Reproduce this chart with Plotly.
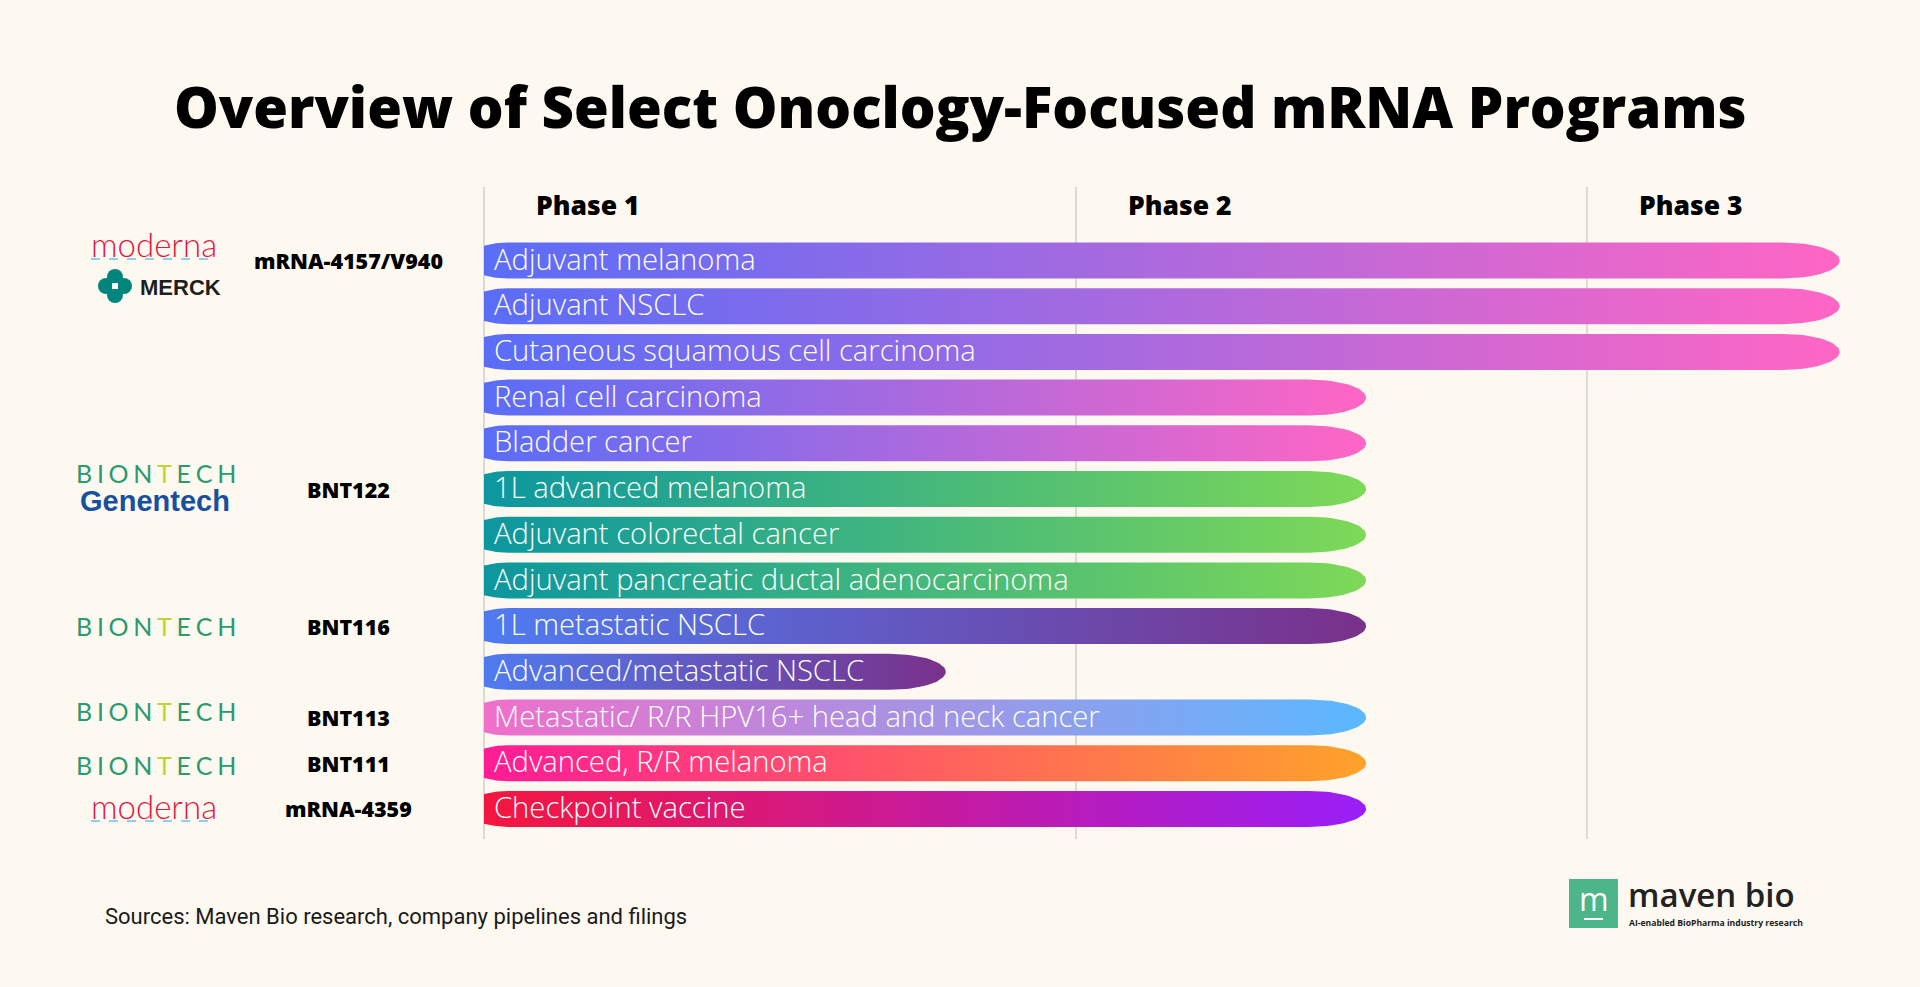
import math
import plotly.graph_objects as go

# ---------------- data ----------------
indications = [
    "Adjuvant melanoma",
    "Adjuvant NSCLC",
    "Cutaneous squamous cell carcinoma",
    "Renal cell carcinoma",
    "Bladder cancer",
    "1L advanced melanoma",
    "Adjuvant colorectal cancer",
    "Adjuvant pancreatic ductal adenocarcinoma",
    "1L metastatic NSCLC",
    "Advanced/metastatic NSCLC",
    "Metastatic/ R/R HPV16+ head and neck cancer",
    "Advanced, R/R melanoma",
    "Checkpoint vaccine",
]
# progress in phase units (Phase 1 starts at 0, Phase 2 at 1, Phase 3 at 1.863)
progress = [2.29, 2.29, 2.29, 1.49, 1.49, 1.49, 1.49, 1.49, 1.49, 0.78, 1.49, 1.49, 1.49]
grad_start = ["#5a6df7", "#5a6df7", "#5a6df7", "#5a6df7", "#5a6df7",
              "#0c979f", "#0c979f", "#0c979f",
              "#4f7bf0", "#4f7bf0",
              "#f06fca", "#ff1b96", "#f5163e"]
grad_end = ["#ff66c4", "#ff66c4", "#ff66c4", "#ff66c4", "#ff66c4",
            "#7ed957", "#7ed957", "#7ed957",
            "#79318a", "#79318a",
            "#5ab8ff", "#ffa22a", "#9a1ff8"]

programs = ["mRNA-4157/V940", "BNT122", "BNT116", "BNT113", "BNT111", "mRNA-4359"]
program_rows = [0, 5, 8, 10, 11, 12]

phases = ["Phase 1", "Phase 2", "Phase 3"]
phase_starts = [0.0, 1.0, 1.863]

# ---------------- layout constants (pixels) ----------------
W, H = 1920, 987
PX_X0 = 484.0        # pixel of phase value 0
PX_PER_UNIT = 592.0  # pixels per phase unit
ROW0 = 260.5         # pixel y of row 0 center
ROW_PX = 45.7        # pixels per row
BG = "#fdf9f1"
HEAD_FONT = "Open Sans"


def px(x):
    return x / W


def py(y):
    return 1 - y / H


x_range = [-PX_X0 / PX_PER_UNIT, (W - PX_X0) / PX_PER_UNIT]
y_range = [(H - ROW0) / ROW_PX, -ROW0 / ROW_PX]

half_h = 18.0 / ROW_PX
tip = 57.0 / PX_PER_UNIT
taper_w = 24.0 / PX_PER_UNIT
taper_d = 3.2 / ROW_PX

fig = go.Figure()
shapes = []
annotations = []


def bar_outline(x0, x1, c):
    xs, ys = [], []
    n = 12
    for k in range(n + 1):
        t = k / n
        xs.append(x0 + taper_w * t)
        ys.append(c - half_h + taper_d * (1 - t) ** 2)
    xs.append(x1 - tip)
    ys.append(c - half_h)
    m = 40
    for k in range(m + 1):
        th = -math.pi / 2 + math.pi * k / m
        xs.append(x1 - tip + tip * math.cos(th))
        ys.append(c + half_h * math.sin(th))
    xs.append(x0 + taper_w)
    ys.append(c + half_h)
    for k in range(n, -1, -1):
        t = k / n
        xs.append(x0 + taper_w * t)
        ys.append(c + half_h - taper_d * (1 - t) ** 2)
    xs.append(xs[0])
    ys.append(ys[0])
    return xs, ys


for i, (name, val) in enumerate(zip(indications, progress)):
    xs, ys = bar_outline(0.0, val, i)
    fig.add_trace(go.Scatter(
        x=xs, y=ys, mode="lines", fill="toself",
        line=dict(width=0, color=grad_end[i]),
        fillgradient=dict(type="horizontal", start=0.0, stop=val,
                          colorscale=[[0, grad_start[i]], [1, grad_end[i]]]),
        hoverinfo="skip", showlegend=False,
    ))
    annotations.append(dict(
        x=8.0 / PX_PER_UNIT, y=i - 0.04, xref="x", yref="y", text=name,
        showarrow=False, xanchor="left", yanchor="middle",
        font=dict(family="Open Sans", size=29.2, color="white", weight=300),
    ))

# phase grid lines
for ps in phase_starts:
    shapes.append(dict(type="line", xref="x", yref="paper", x0=ps, x1=ps,
                       y0=py(839), y1=py(187),
                       line=dict(color="#dcdad5", width=2), layer="below"))

for name, ps in zip(phases, phase_starts):
    annotations.append(dict(x=ps + 104.0 / PX_PER_UNIT, y=py(205), xref="x", yref="paper",
                            text=name, showarrow=False, xanchor="center", yanchor="middle",
                            font=dict(family=HEAD_FONT, size=26.5, color="#000000", weight=800)))

for name, r in zip(programs, program_rows):
    annotations.append(dict(x=px(348), y=r, xref="paper", yref="y", text=name,
                            showarrow=False, xanchor="center", yanchor="middle",
                            font=dict(family=HEAD_FONT, size=21.5, color="#000000", weight=800)))

# title
annotations.append(dict(x=px(960), y=py(106), xref="paper", yref="paper",
                        text="Overview of Select Onoclogy-Focused mRNA Programs",
                        showarrow=False, xanchor="center", yanchor="middle",
                        font=dict(family=HEAD_FONT, size=56.3, color="#000000", weight=800)))

# sources
annotations.append(dict(x=px(103), y=py(916), xref="paper", yref="paper",
                        text="Sources: Maven Bio research, company pipelines and filings",
                        showarrow=False, xanchor="left", yanchor="middle",
                        font=dict(family="Roboto", size=22, color="#1a1a1a")))


# ---- company logos (approximated with text + shapes) ----
def moderna(yc):
    annotations.append(dict(x=px(154), y=py(yc), xref="paper", yref="paper",
                            text="moderna", showarrow=False, xanchor="center", yanchor="middle",
                            font=dict(family="Lato", size=33, color="#e3173f", weight=300)))
    shapes.append(dict(type="line", xref="paper", yref="paper",
                       x0=px(91), x1=px(217), y0=py(yc + 15), y1=py(yc + 15),
                       line=dict(color="#62c3f0", width=1.5, dash="dash")))


def biontech(yc):
    sp = "\u2009\u200a"
    g, l = "#2b9a6e", "#bcd530"
    letters = [("B", g), ("I", g), ("O", g), ("N", g), ("T", l), ("E", g), ("C", g), ("H", g)]
    txt = sp.join(f"<span style='color:{c}'>{ch}</span>" for ch, c in letters)
    annotations.append(dict(x=px(156), y=py(yc), xref="paper", yref="paper",
                            text=txt, showarrow=False, xanchor="center", yanchor="middle",
                            font=dict(family="Lato", size=25, color=g, weight=400)))


moderna(244)
# Merck
mx, my = 115, 286
for dx, dy in [(0, -9), (0, 9), (-9, 0), (9, 0)]:
    shapes.append(dict(type="circle", xref="paper", yref="paper",
                       x0=px(mx + dx - 8), x1=px(mx + dx + 8),
                       y0=py(my + dy + 8), y1=py(my + dy - 8),
                       fillcolor="#00857c", line=dict(width=0)))
shapes.append(dict(type="rect", xref="paper", yref="paper",
                   x0=px(mx - 3), x1=px(mx + 3), y0=py(my + 3), y1=py(my - 3),
                   fillcolor="white", line=dict(width=0)))
annotations.append(dict(x=px(138), y=py(287), xref="paper", yref="paper",
                        text="<b>MERCK</b>", showarrow=False, xanchor="left", yanchor="middle",
                        font=dict(family="Liberation Sans", size=22, color="#1f1f1f")))

biontech(473)
annotations.append(dict(x=px(155), y=py(501), xref="paper", yref="paper",
                        text="<b>Genentech</b>", showarrow=False, xanchor="center", yanchor="middle",
                        font=dict(family="Liberation Sans", size=29, color="#17509c")))
biontech(626)
biontech(711)
biontech(765)
moderna(806)

# maven bio logo
shapes.append(dict(type="rect", xref="paper", yref="paper",
                   x0=px(1569), x1=px(1618), y0=py(928), y1=py(879),
                   fillcolor="#4cb58a", line=dict(width=0)))
shapes.append(dict(type="rect", xref="paper", yref="paper",
                   x0=px(1584), x1=px(1603), y0=py(920), y1=py(918),
                   fillcolor="white", line=dict(width=0)))
annotations.append(dict(x=px(1593.5), y=py(898), xref="paper", yref="paper",
                        text="m", showarrow=False, xanchor="center", yanchor="middle",
                        font=dict(family="Open Sans", size=32, color="white", weight=400)))
annotations.append(dict(x=px(1626), y=py(894), xref="paper", yref="paper",
                        text="maven bio", showarrow=False, xanchor="left", yanchor="middle",
                        font=dict(family="Open Sans", size=33, color="#222222", weight=600)))
annotations.append(dict(x=px(1627), y=py(923), xref="paper", yref="paper",
                        text="<b>AI-enabled BioPharma industry research</b>", showarrow=False,
                        xanchor="left", yanchor="middle",
                        font=dict(family="Open Sans", size=8.6, color="#222222")))

fig.update_layout(
    width=W, height=H,
    margin=dict(l=0, r=0, t=0, b=0),
    paper_bgcolor=BG, plot_bgcolor=BG,
    xaxis=dict(range=x_range, visible=False, fixedrange=True),
    yaxis=dict(range=y_range, visible=False, fixedrange=True),
    shapes=shapes, annotations=annotations,
    showlegend=False,
)

fig.write_html(
    "out.html",
    config={"displayModeBar": False},
    post_script="document.body.style.margin='0';document.body.style.overflow='hidden';",
)
